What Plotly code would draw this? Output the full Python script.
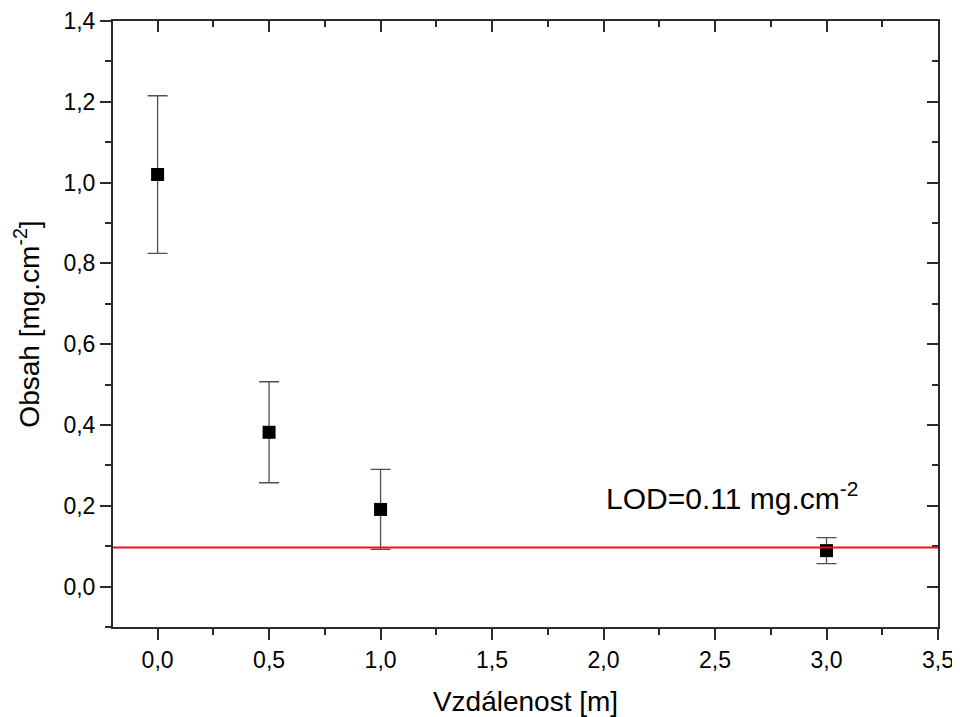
import plotly.graph_objects as go

distance = [0.0, 0.5, 1.0, 3.0]
content = [1.02, 0.382, 0.191, 0.089]
error = [0.195, 0.125, 0.099, 0.032]
lod_value = 0.097
x_ticks = [0.0, 0.5, 1.0, 1.5, 2.0, 2.5, 3.0, 3.5]
y_ticks = [0.0, 0.2, 0.4, 0.6, 0.8, 1.0, 1.2, 1.4]

font = "Liberation Sans, Arial, sans-serif"
axcol = "#2a2a2a"

fig = go.Figure()
fig.add_trace(go.Scatter(
    x=distance, y=content, mode="markers",
    marker=dict(symbol="square", size=13, color="black"),
    error_y=dict(type="data", array=error, visible=True, color="#505050", thickness=1.3, width=10),
    showlegend=False,
))
# invisible trace for mirrored axes
fig.add_trace(go.Scatter(x=[None], y=[None], xaxis="x2", yaxis="y2", showlegend=False))

fig.add_shape(type="line", xref="paper", x0=0, x1=1, yref="y", y0=lod_value, y1=lod_value,
              line=dict(color="#e8141a", width=2))

fig.add_annotation(x=2.575, y=0.225, xref="x", yref="y",
                   text="LOD=0.11 mg.cm<sup>-2</sup>", showarrow=False,
                   font=dict(family=font, size=30, color="black"))

axis_common = dict(showgrid=False, zeroline=False, showline=True, linecolor=axcol, linewidth=2,
                   tickcolor=axcol, tickwidth=2, ticklen=11)

def minor(kind, d):
    return dict(ticks=kind, ticklen=6, tickwidth=2, tickcolor=axcol, dtick=d, tick0=0)

fig.update_layout(
    width=952, height=709,
    margin=dict(l=105, r=22, t=13, b=90, autoexpand=False),
    paper_bgcolor="white", plot_bgcolor="white",
    separators=", ",
    font=dict(family=font, size=23, color="black"),
    xaxis=dict(range=[-0.2, 3.5], tickvals=x_ticks, tickformat=".1f", ticks="outside",
               minor=minor("outside", 0.25),
               title=dict(text="Vzdálenost [m]", font=dict(size=28), standoff=22),
               **axis_common),
    yaxis=dict(range=[-0.1, 1.4], tickvals=y_ticks, tickformat=".1f", ticks="outside",
               minor=minor("outside", 0.1),
               title=dict(text="Obsah [mg.cm<sup>-2</sup>]", font=dict(size=28), standoff=16),
               **axis_common),
    xaxis2=dict(range=[-0.2, 3.5], overlaying="x", side="top", tickvals=x_ticks, ticks="inside",
                showticklabels=False, minor=minor("inside", 0.25),
                **axis_common),
    yaxis2=dict(range=[-0.1, 1.4], overlaying="y", side="right", tickvals=y_ticks, ticks="inside",
                showticklabels=False, minor=minor("inside", 0.1),
                **axis_common),
)

fig.write_html("out.html")
